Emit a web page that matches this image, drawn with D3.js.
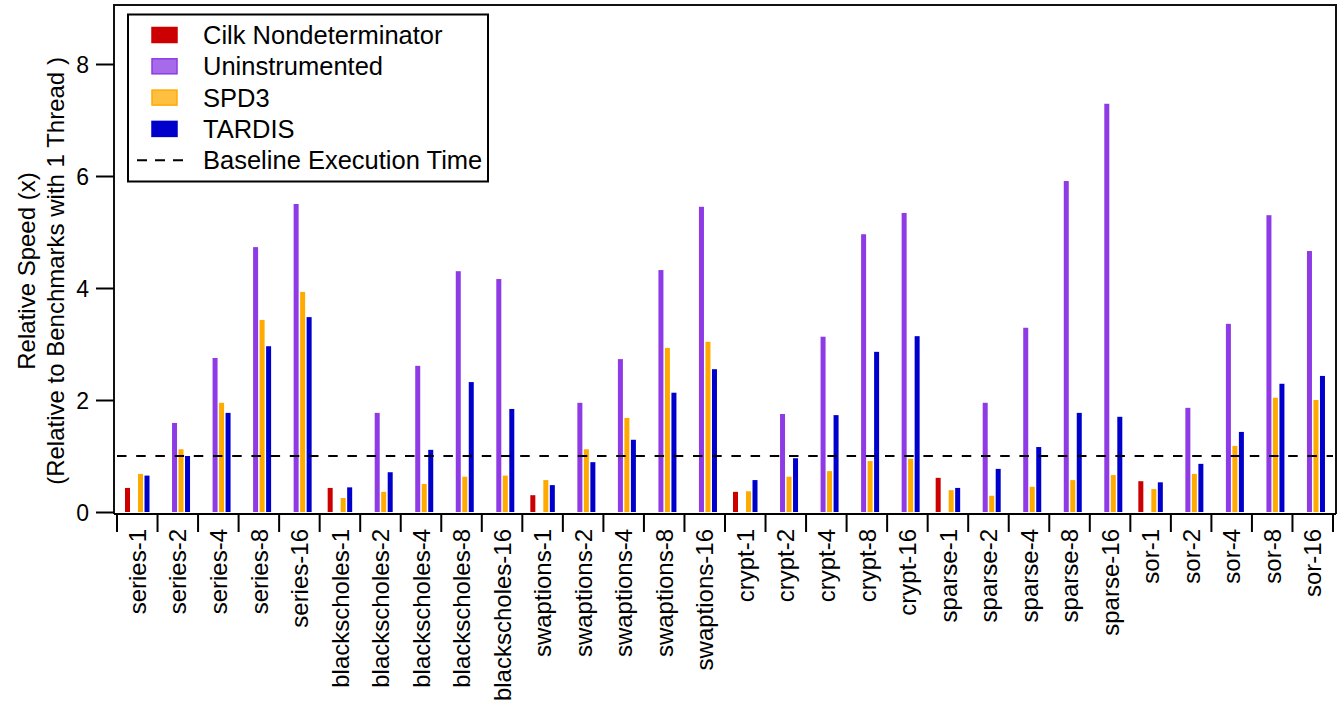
<!DOCTYPE html>
<html>
<head>
<meta charset="utf-8">
<script src="https://cdn.jsdelivr.net/npm/d3@7"></script>
<style>
  body { margin: 0; background: #fff; }
  text { font-family: 'Liberation Sans', Arial, sans-serif; fill: #000; }
</style>
</head>
<body>
<div class="svg-container"></div>
<script>
let categories = ['series-1', 'series-2', 'series-4', 'series-8', 'series-16',
  'blackscholes-1', 'blackscholes-2', 'blackscholes-4', 'blackscholes-8', 'blackscholes-16',
  'swaptions-1', 'swaptions-2', 'swaptions-4', 'swaptions-8', 'swaptions-16',
  'crypt-1', 'crypt-2', 'crypt-4', 'crypt-8', 'crypt-16',
  'sparse-1', 'sparse-2', 'sparse-4', 'sparse-8', 'sparse-16',
  'sor-1', 'sor-2', 'sor-4', 'sor-8', 'sor-16']

let seriesNames = ['Cilk Nondeterminator', 'Uninstrumented', 'SPD3', 'TARDIS']

let cilk = [0.43, null, null, null, null, 0.43, null, null, null, null,
  0.30, null, null, null, null, 0.36, null, null, null, null,
  0.61, null, null, null, null, 0.55, null, null, null, null]
let uninstrumented = [null, 1.59, 2.75, 4.73, 5.50, null, 1.77, 2.61, 4.30, 4.16,
  null, 1.95, 2.73, 4.32, 5.45, null, 1.75, 3.13, 4.96, 5.34,
  null, 1.95, 3.29, 5.91, 7.29, null, 1.86, 3.36, 5.30, 4.66]
let spd3 = [0.68, 1.12, 1.95, 3.43, 3.93, 0.25, 0.36, 0.50, 0.63, 0.65,
  0.57, 1.12, 1.68, 2.93, 3.04, 0.37, 0.63, 0.73, 0.91, 0.95,
  0.39, 0.29, 0.45, 0.57, 0.66, 0.41, 0.68, 1.18, 2.04, 2.00]
let tardis = [0.65, 1.00, 1.77, 2.96, 3.48, 0.44, 0.71, 1.11, 2.32, 1.84,
  0.48, 0.89, 1.29, 2.13, 2.55, 0.57, 0.96, 1.73, 2.86, 3.14,
  0.43, 0.77, 1.16, 1.77, 1.70, 0.53, 0.86, 1.43, 2.29, 2.43]

let yTicks = [0, 2, 4, 6, 8]
let baseline = 1

let barColors = ['#CC0000', '#8E3AE5', '#FFAA00', '#0000CC']
let swatchFill = ['#CC0000', '#A76BEA', '#FFBF40', '#0000CC']

let width = 1343
let height = 709
let plotLeft = 114
let plotRight = 1336
let plotTop = 5
let zeroY = 512
let axisY = 514

let svg = d3.select('.svg-container')
  .append('svg')
  .attr('width', width)
  .attr('height', height)

let xScale = d3.scaleBand()
  .domain(categories)
  .range([117, 1333])
  .padding(0)

let innerScale = d3.scaleBand()
  .domain(seriesNames)
  .range([8, 34])

let yScale = d3.scaleLinear()
  .domain([0, 8])
  .range([zeroY, zeroY - 8 * 56])

let allSeries = [cilk, uninstrumented, spd3, tardis]
let barData = []
allSeries.forEach((values, s) => {
  values.forEach((v, i) => {
    if (v !== null) barData.push({cat: categories[i], series: seriesNames[s], value: v, color: barColors[s]})
  })
})

svg.append('g')
  .selectAll('rect')
  .data(barData)
  .enter()
  .append('rect')
  .attr('x', d => xScale(d.cat) + innerScale(d.series))
  .attr('y', d => yScale(d.value))
  .attr('width', 5)
  .attr('height', d => yScale(0) - yScale(d.value))
  .attr('fill', d => d.color)

// baseline dashed line
svg.append('line')
  .attr('x1', 117)
  .attr('x2', 1333)
  .attr('y1', yScale(baseline))
  .attr('y2', yScale(baseline))
  .attr('stroke', '#000')
  .attr('stroke-width', 2.2)
  .attr('stroke-dasharray', '9.5,9.7')

// frame
svg.append('path')
  .attr('d', `M${plotLeft},${axisY}V${plotTop}H${plotRight}V${axisY}`)
  .attr('fill', 'none')
  .attr('stroke', '#111')
  .attr('stroke-width', 2)

// y axis
let yAxis = d3.axisLeft(yScale)
  .tickValues(yTicks)
  .tickSize(18)
  .tickPadding(7)
  .tickFormat(d3.format('d'))

let gy = svg.append('g')
  .attr('transform', `translate(${plotLeft}, 0)`)
  .call(yAxis)
gy.select('.domain').remove()
gy.selectAll('line').attr('stroke', '#000').attr('stroke-width', 2)
gy.selectAll('text').style('font-size', '23px').attr('dy', '0.36em')

// x axis
let gx = svg.append('g')
  .attr('transform', `translate(0, ${axisY})`)
gx.append('line')
  .attr('x1', plotLeft)
  .attr('x2', plotRight)
  .attr('stroke', '#000')
  .attr('stroke-width', 2)
gx.selectAll('.tick')
  .data(d3.range(categories.length + 1))
  .enter()
  .append('line')
  .attr('x1', i => xScale.range()[0] + i * xScale.bandwidth())
  .attr('x2', i => xScale.range()[0] + i * xScale.bandwidth())
  .attr('y1', 0)
  .attr('y2', 18)
  .attr('stroke', '#000')
  .attr('stroke-width', 2)
gx.selectAll('.label')
  .data(categories)
  .enter()
  .append('text')
  .attr('transform', d => `translate(${xScale(d) + xScale.bandwidth() / 2}, 15) rotate(-90)`)
  .attr('dy', '0.36em')
  .style('text-anchor', 'end')
  .style('font-size', '24px')
  .text(d => d)

// y axis title
let yTitle = svg.append('text')
  .attr('transform', 'translate(35, 271) rotate(-90)')
  .style('text-anchor', 'middle')
  .style('font-size', '24px')
yTitle.append('tspan').attr('x', 0).attr('y', 0).text('Relative Speed (x)')
yTitle.append('tspan').attr('x', 0).attr('y', 29).text('(Relative to Benchmarks with 1 Thread )')

// legend
let legend = svg.append('g')
legend.append('rect')
  .attr('x', 128)
  .attr('y', 14.5)
  .attr('width', 360)
  .attr('height', 167)
  .attr('fill', '#fff')
  .attr('stroke', '#000')
  .attr('stroke-width', 2)

let legendRows = legend.selectAll('.row')
  .data(seriesNames)
  .enter()
  .append('g')
  .attr('transform', (d, i) => `translate(0, ${35 + i * 31.3})`)
legendRows.append('rect')
  .attr('x', 152)
  .attr('y', -7.5)
  .attr('width', 25)
  .attr('height', 15)
  .attr('fill', (d, i) => swatchFill[i])
  .attr('stroke', (d, i) => barColors[i])
  .attr('stroke-width', 1.5)
legendRows.append('text')
  .attr('x', 203)
  .attr('dy', '0.36em')
  .style('font-size', '25.5px')
  .text(d => d)

let baseRow = legend.append('g')
  .attr('transform', `translate(0, ${35 + 4 * 31.3})`)
baseRow.append('line')
  .attr('x1', 137)
  .attr('x2', 185)
  .attr('stroke', '#000')
  .attr('stroke-width', 2)
  .attr('stroke-dasharray', '10,8')
baseRow.append('text')
  .attr('x', 203)
  .attr('dy', '0.36em')
  .style('font-size', '25.5px')
  .text('Baseline Execution Time')
</script>
</body>
</html>
